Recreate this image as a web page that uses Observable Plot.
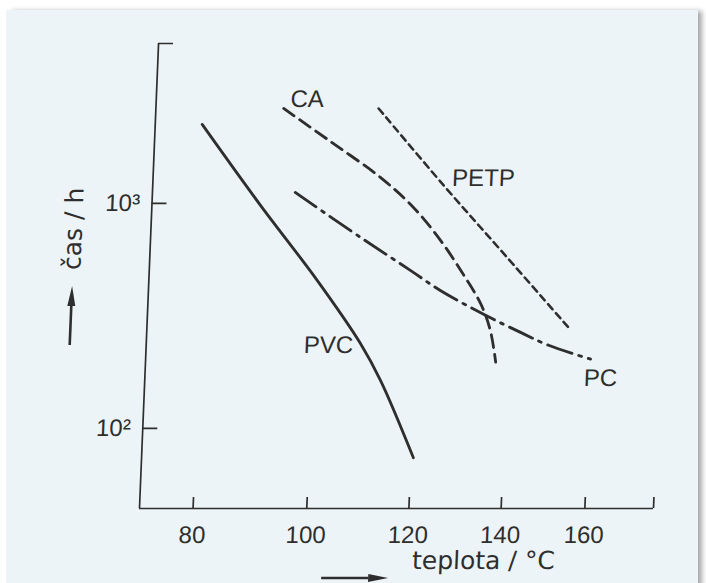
<!DOCTYPE html>
<html><head><meta charset="utf-8">
<script src="https://cdn.jsdelivr.net/npm/d3@7"></script>
<script src="https://cdn.jsdelivr.net/npm/@observablehq/plot@0.6"></script>
<style>
html,body{margin:0;padding:0;background:#fff;}
#wrap{position:relative;width:706px;height:583px;overflow:hidden;background:#fff;}
#page{position:absolute;left:6px;top:10px;width:692px;height:600px;background:#edf4f7;box-shadow:5px 0 5px -1px rgba(0,0,0,0.35);}
#chart{position:absolute;left:0;top:0;width:706px;height:583px;}
#chart svg{transform:skewX(-2.35deg);transform-origin:0 508px;overflow:visible;}
</style></head><body>
<div id="wrap"><div id="page"></div><div id="chart"></div></div>
<script>
// axis ticks
const tempTicks = [80, 100, 120, 140, 160];
const timeTicks = [100, 1000];
const timeTickLabels = ["10²", "10³"];
const xRangeT = [71.3, 177.9];
const yRangeH = [44, 5140];

// series (temperature °C, time h)
const pvcT = [78.9, 89.4, 100.2, 108.9, 113.2, 120.5];
const pvcH = [2245, 980, 455, 239, 163, 74];
const caT = [92.8, 101.6, 111.5, 118.4, 124.3, 129.3, 133.5, 135.9, 137.4];
const caH = [2643, 1886, 1305, 960, 685, 489, 359, 273, 197];
const petpT = [110.6, 124.5, 138.6, 154.1];
const petpH = [2643, 1202, 587, 281];
const pcT = [95.5, 108.1, 118.3, 124.7, 134.7, 142.8, 149.5, 159.9];
const pcH = [1119, 706, 504, 410, 318, 267, 234, 203];

// curve labels
const curveLabels = ["CA", "PETP", "PVC", "PC"];
const curveLabelT = [97.0, 133.0, 102.8, 162.6];
const curveLabelH = [2899, 1292, 234, 167];

const xTitle = "teplota / °C";
const yTitle = "čas / h";

const inv = t => 1000 / (t + 273.15);
const back = u => Math.round(1000 / u - 273.15);
const series = (T, H) => T.map((t, i) => ({u: inv(t), h: H[i]}));
const labelData = curveLabels.map((s, i) => ({s, u: inv(curveLabelT[i]), h: curveLabelH[i]}));

const ink = "#2e2e2e";
const font = "'Liberation Sans', Arial, sans-serif";
const titleFont = "'DejaVu Sans', sans-serif";

// axis-title arrows (decoration placed relative to the frame)
function titleArrows(index, scales, values, dim) {
  const ns = "http://www.w3.org/2000/svg";
  const g = document.createElementNS(ns, "g");
  const left = dim.marginLeft, bottom = dim.height - dim.marginBottom;
  const mk = (x1, y1, x2, y2) => {
    const dx = x2 - x1, dy = y2 - y1, L = Math.hypot(dx, dy), ux = dx / L, uy = dy / L;
    const hl = 20, hw = 4;
    const bx = x2 - ux * hl, by = y2 - uy * hl;
    const line = document.createElementNS(ns, "line");
    line.setAttribute("x1", x1); line.setAttribute("y1", y1);
    line.setAttribute("x2", bx); line.setAttribute("y2", by);
    line.setAttribute("stroke", ink); line.setAttribute("stroke-width", 2.6);
    const head = document.createElementNS(ns, "path");
    head.setAttribute("d", `M${x2},${y2}L${bx - uy * hw},${by + ux * hw}L${bx + uy * hw},${by - ux * hw}Z`);
    head.setAttribute("fill", ink);
    g.appendChild(line); g.appendChild(head);
  };
  mk(left + 185, bottom + 70, left + 252, bottom + 70);
  mk(left - 76, bottom - 163, left - 76, bottom - 222);
  return g;
}

const chart = Plot.plot({
  width: 706, height: 583,
  marginLeft: 139, marginRight: 53, marginTop: 43, marginBottom: 75,
  style: {fontFamily: font, fontSize: "24px", color: ink, background: "transparent"},
  x: {type: "linear", domain: xRangeT.map(inv)},
  y: {type: "log", domain: yRangeH},
  marks: [
    Plot.ruleX([inv(xRangeT[0])], {stroke: ink, strokeWidth: 1.7}),
    Plot.ruleY([yRangeH[0]], {stroke: ink, strokeWidth: 1.7}),
    Plot.axisX({ticks: [...tempTicks, xRangeT[1]].map(inv), tickSize: -11, tickPadding: 28,
      tickFormat: u => { const t = back(u); return tempTicks.includes(t) ? String(t) : ""; },
      label: null, fontSize: 24, strokeWidth: 1.7, stroke: ink}),
    Plot.axisY({ticks: [...timeTicks, yRangeH[1]], tickSize: -15, tickPadding: 27,
      tickFormat: v => { const i = timeTicks.indexOf(v); return i >= 0 ? timeTickLabels[i] : ""; },
      label: null, fontSize: 24, strokeWidth: 1.7, stroke: ink}),
    Plot.line(series(pvcT, pvcH), {x: "u", y: "h", curve: "catmull-rom", stroke: ink, strokeWidth: 2.8}),
    Plot.line(series(caT, caH), {x: "u", y: "h", curve: "catmull-rom", stroke: ink, strokeWidth: 2.8, strokeDasharray: "13,7"}),
    Plot.line(series(petpT, petpH), {x: "u", y: "h", curve: "catmull-rom", stroke: ink, strokeWidth: 2.5, strokeDasharray: "7,5"}),
    Plot.line(series(pcT, pcH), {x: "u", y: "h", curve: "catmull-rom", stroke: ink, strokeWidth: 2.8, strokeDasharray: "26,7,3,7"}),
    Plot.text(labelData, {x: "u", y: "h", text: "s", fill: ink, fontSize: 24}),
    Plot.text([xTitle], {frameAnchor: "bottom", dx: 89, dy: 60, fill: ink, fontSize: 25, fontFamily: titleFont}),
    Plot.text([yTitle], {frameAnchor: "left", rotate: -90, dx: -77, dy: -6, fill: ink, fontSize: 25, fontFamily: titleFont}),
    titleArrows
  ]
});
document.getElementById("chart").appendChild(chart);
</script>
</body></html>
